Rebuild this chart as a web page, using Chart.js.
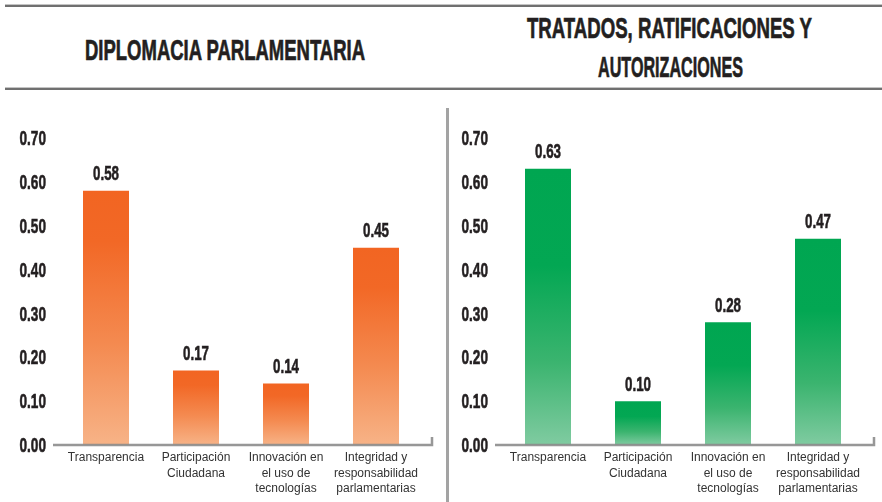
<!DOCTYPE html>
<html>
<head>
<meta charset="utf-8">
<script src="https://cdn.jsdelivr.net/npm/chart.js@4.4.1/dist/chart.umd.min.js"></script>
<style>
html,body{margin:0;padding:0;background:#fff;width:882px;height:502px;overflow:hidden;position:relative;}
.hline{position:absolute;left:5px;width:877px;height:2px;background:#707070;border-top:1px solid #c4c4c4;}
.vsep{position:absolute;left:446px;top:108px;width:3px;height:394px;background:#a3a3a3;z-index:5;}
.title{position:absolute;white-space:nowrap;font-family:"Liberation Sans",Arial,sans-serif;font-weight:bold;color:#231f20;transform-origin:0 0;line-height:1;-webkit-text-stroke:0.7px #231f20;}
canvas{position:absolute;}
</style>
</head>
<body>
<div class="hline" style="top:4px"></div>
<div class="hline" style="top:87px"></div>
<div class="vsep"></div>
<div class="title" id="t1">DIPLOMACIA PARLAMENTARIA</div>
<div class="title" id="t2">TRATADOS, RATIFICACIONES Y</div>
<div class="title" id="t3">AUTORIZACIONES</div>
<canvas id="c1" width="440" height="392" style="left:0;top:110px;width:440px;height:392px"></canvas>
<canvas id="c2" width="440" height="392" style="left:442px;top:110px;width:440px;height:392px"></canvas>
<script>
// ---- data ----
const categories = ["Transparencia", ["Participación", "Ciudadana"], ["Innovación en", "el uso de", "tecnologías"], ["Integridad y", "responsabilidad", "parlamentarias"]];
const diplomaciaValues = [0.58, 0.17, 0.14, 0.45];
const tratadosValues = [0.63, 0.10, 0.28, 0.47];
const yTickValues = [0.00, 0.10, 0.20, 0.30, 0.40, 0.50, 0.60, 0.70];

// ---- titles ----
function placeTitle(id, centerX, capTop, capH, targetW) {
  const el = document.getElementById(id);
  const F = capH / 0.716;
  el.style.fontSize = F + 'px';
  const w = el.getBoundingClientRect().width;
  const s = targetW / w;
  el.style.transform = 'scaleX(' + s + ')';
  el.style.left = (centerX - s * w / 2) + 'px';
  el.style.top = (capTop - 0.13 * F) + 'px';
}
placeTitle('t1', 225, 39, 21, 280);
placeTitle('t2', 669.5, 17, 21.5, 285);
placeTitle('t3', 670.5, 55.5, 21.5, 145);

// ---- chart ----
const numFont = '"Liberation Sans",Arial,sans-serif';

function gradientFill(stops) {
  return (ctx) => {
    const chart = ctx.chart;
    if (!chart.chartArea || ctx.type !== 'data') return stops[0][1];
    const ys = chart.scales.y;
    const y0 = ys.getPixelForValue(ctx.raw);
    const y1 = ys.getPixelForValue(0);
    if (!isFinite(y0) || !isFinite(y1) || y1 - y0 < 1) return stops[0][1];
    const g = chart.ctx.createLinearGradient(0, y0, 0, y1);
    stops.forEach(s => g.addColorStop(s[0], s[1]));
    return g;
  };
}

// draw condensed bold number text: (x,y) = anchor, y is vertical centre of digits
function condensedText(ctx, text, x, y, size, refText, refWidth, align) {
  ctx.save();
  ctx.font = 'bold ' + size + 'px ' + numFont;
  const sx = refWidth / ctx.measureText(refText).width;
  ctx.translate(x, y + 0.716 * size / 2);
  ctx.scale(sx, 1);
  ctx.textAlign = align;
  ctx.textBaseline = 'alphabetic';
  ctx.fillStyle = '#231f20';
  ctx.strokeStyle = '#231f20';
  ctx.lineWidth = 0.6;
  ctx.fillText(text, 0, 0);
  ctx.strokeText(text, 0, 0);
  ctx.restore();
}

const extras = {
  id: 'extras',
  afterDatasetsDraw(chart) {
    const ctx = chart.ctx;
    const a = chart.chartArea;
    const ys = chart.scales.y;
    const y0 = ys.getPixelForValue(0);
    ctx.save();
    // axis line
    ctx.strokeStyle = 'rgba(140,140,140,0.9)';
    ctx.lineWidth = 2.5;
    ctx.beginPath();
    ctx.moveTo(a.left - 8, y0);
    ctx.lineTo(a.right + 11, y0);
    ctx.lineTo(a.right + 11, y0 - 8);
    ctx.stroke();
    ctx.restore();
    // y tick labels
    yTickValues.forEach(v => {
      condensedText(ctx, v.toFixed(2), a.left - 15, ys.getPixelForValue(v), 20, '0.70', 26.5, 'right');
    });
    // value labels
    const meta = chart.getDatasetMeta(0);
    const data = chart.data.datasets[0].data;
    meta.data.forEach((el, i) => {
      condensedText(ctx, Number(data[i]).toFixed(2), el.x, el.y - 18, 21, '0.58', 26, 'center');
    });
  }
};

function makeChart(id, values, stops) {
  return new Chart(document.getElementById(id), {
    type: 'bar',
    data: {
      labels: categories,
      datasets: [{
        data: values,
        backgroundColor: gradientFill(stops),
        borderWidth: 0,
        barPercentage: 1,
        categoryPercentage: 46 / 90
      }]
    },
    options: {
      responsive: false,
      animation: false,
      devicePixelRatio: 1,
      layout: { padding: { top: 28, right: 19, left: 0, bottom: 0 } },
      plugins: { legend: { display: false }, tooltip: { enabled: false } },
      scales: {
        x: {
          grid: { display: false, drawTicks: false },
          border: { display: false },
          ticks: {
            color: '#333333',
            font: { family: '"Liberation Sans",Arial,sans-serif', size: 12, lineHeight: 1.3 },
            padding: 5, maxRotation: 0, minRotation: 0, autoSkip: false
          },
          afterFit(s) { s.height = 57; }
        },
        y: {
          min: 0, max: 0.7,
          afterBuildTicks(s) { s.ticks = yTickValues.map(v => ({ value: v })); },
          grid: { display: false, drawTicks: false },
          border: { display: false },
          ticks: { display: false },
          afterFit(s) { s.width = 61; }
        }
      }
    },
    plugins: [extras]
  });
}

makeChart('c1', diplomaciaValues, [[0, '#F26522'], [0.2, '#F26826'], [0.6, '#F48A50'], [1, '#F7B387']]);
makeChart('c2', tratadosValues, [[0, '#00A651'], [0.35, '#03A753'], [0.7, '#3BB46F'], [1, '#80CBA1']]);
</script>
</body>
</html>
